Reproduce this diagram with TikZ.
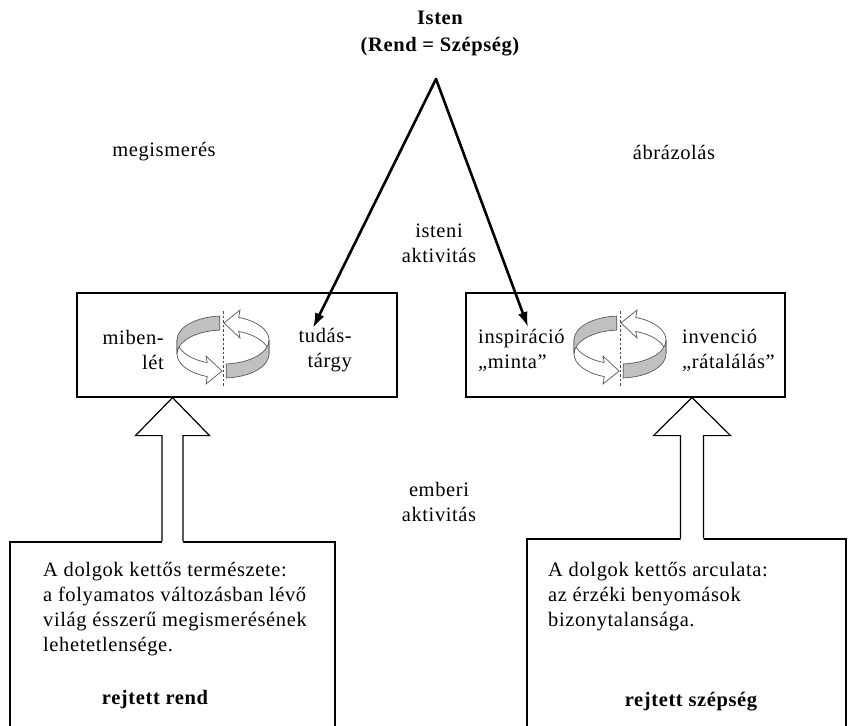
\documentclass[tikz,border=0pt]{standalone}
\usepackage{fontspec}
\setmainfont{Liberation Serif}[LetterSpace=3]
\usetikzlibrary{arrows.meta,calc}
\definecolor{cycgray}{HTML}{C0C0C0}
\tikzset{
  txt/.style={font=\fontsize{20.5}{25}\selectfont, inner sep=0pt},
  btxt/.style={font=\fontsize{20.5}{27}\selectfont\bfseries, inner sep=0pt},
  boxnode/.style={draw, line width=1.2pt, inner sep=0pt},
  godarrow/.style={line width=2.6pt, line join=round,
    {Latex[length=15pt,width=10pt]}-{Latex[length=15pt,width=10pt]}},
  blockarrow/.style={line width=1.2pt, line join=miter},
  cycline/.style={draw=black!65, line width=0.7pt},
  cycdash/.style={draw=black!70, line width=0.8pt, dash pattern=on 2.5pt off 2pt},
  cyc/.pic={
    \begin{scope}[yscale=-1]
      \foreach \r in {0,180}{
        \begin{scope}[rotate=\r]
          \filldraw[cycline,fill=white]
            ({46*cos(180)},{7+24*sin(180)})
            arc[start angle=180,end angle=250,x radius=46,y radius=24]
            -- (-17,-9) -- (-1,-24) -- (-17,-37)
            -- ({46*cos(250)},{-7+24*sin(250)})
            arc[start angle=250,end angle=180,x radius=46,y radius=24]
            -- cycle;
          \filldraw[cycline,fill=cycgray]
            ({46*cos(94)},{7+24*sin(94)})
            arc[start angle=94,end angle=180,x radius=46,y radius=24]
            -- ({46*cos(180)},{-7+24*sin(180)})
            arc[start angle=180,end angle=94,x radius=46,y radius=24]
            -- cycle;
        \end{scope}
      }
      \draw[cycdash] (0,36) -- (0,-39);
    \end{scope}
  }
}
\begin{document}
\begin{tikzpicture}[x=1pt,y=-1pt]
  \useasboundingbox (0,0) rectangle (848,725);
  \fill[white] (0,0) rectangle (848,725);
  \clip (0,0) rectangle (848,725);

  % top labels
  \node[btxt, align=center] (isten) at (440,33.5) {Isten\\(Rend = Szépség)};
  \node[txt] (megis) at (164,152) {megismerés};
  \node[txt] (abraz) at (674,152) {ábrázolás};
  \node[txt, align=center] (isteni) at (439,243) {isteni\\aktivitás};

  % middle boxes
  \node[boxnode, minimum width=320pt, minimum height=104pt] (box1) at (237,345) {};
  \node[boxnode, minimum width=319pt, minimum height=104pt] (box2) at (625.5,345) {};
  \node[txt, align=right, anchor=east] (mib) at (164,350) {miben-\\lét};
  \node[txt, align=right, anchor=east] (tud) at (352,350) {tudás-\\tárgy};
  \node[txt, align=left, anchor=west] (insp) at (478,350) {inspiráció\\„minta”};
  \node[txt, align=left, anchor=west] (inv) at (682,350) {invenció\\„rátalálás”};
  \pic (cyc1) at (223,347) {cyc};
  \pic (cyc2) at (620,347) {cyc};

  % divine arrows
  \coordinate (apex) at (436,79);
  \coordinate (tip1) at (313,328);
  \coordinate (tip2) at (528,327);
  \draw[godarrow] (tip1) -- (apex) -- (tip2);

  % human activity
  \node[txt, align=center] (emberi) at (439,502) {emberi\\aktivitás};

  % bottom boxes
  \node[boxnode, minimum width=325pt, minimum height=218pt] (bl) at (172.5,651) {};
  \node[boxnode, minimum width=319pt, minimum height=222pt] (br) at (686.5,650) {};
  \node[txt, align=left, anchor=west] (bltext) at (43,609.5)
    {A dolgok kettős természete:\\a folyamatos változásban lévő\\világ ésszerű megismerésének\\lehetetlensége.};
  \node[txt, font=\fontsize{20.5}{25}\selectfont\bfseries] (blbold) at (155,700) {rejtett rend};
  \node[txt, align=left, anchor=west] (brtext) at (548,597)
    {A dolgok kettős arculata:\\az érzéki benyomások\\bizonytalansága.};
  \node[txt, font=\fontsize{20.5}{25}\selectfont\bfseries] (brbold) at (691,702) {rejtett szépség};

  % block arrows
  \fill[white] let \p1=(bl.north), \p2=(box1.south) in
    (\x1-10.5pt,\y1-1.5pt) -- (\x1-10.5pt,\y2-38pt) -- (\x1-37pt,\y2-38pt) -- (\x1,\y2)
    -- (\x1+37pt,\y2-38pt) -- (\x1+10.5pt,\y2-38pt) -- (\x1+10.5pt,\y1-1.5pt) -- cycle;
  \draw[blockarrow] let \p1=(bl.north), \p2=(box1.south) in
    (\x1-10.5pt,\y1) -- (\x1-10.5pt,\y2-38pt) -- (\x1-37pt,\y2-38pt) -- (\x1,\y2)
    -- (\x1+37pt,\y2-38pt) -- (\x1+10.5pt,\y2-38pt) -- (\x1+10.5pt,\y1);
  \fill[white] let \p1=($(br.north)+(5.5,0)$), \p2=(box2.south) in
    (\x1-11.5pt,\y1-1.5pt) -- (\x1-11.5pt,\y2-38pt) -- (\x1-38.5pt,\y2-38pt) -- (\x1,\y2)
    -- (\x1+38.5pt,\y2-38pt) -- (\x1+11.5pt,\y2-38pt) -- (\x1+11.5pt,\y1-1.5pt) -- cycle;
  \draw[blockarrow] let \p1=($(br.north)+(5.5,0)$), \p2=(box2.south) in
    (\x1-11.5pt,\y1) -- (\x1-11.5pt,\y2-38pt) -- (\x1-38.5pt,\y2-38pt) -- (\x1,\y2)
    -- (\x1+38.5pt,\y2-38pt) -- (\x1+11.5pt,\y2-38pt) -- (\x1+11.5pt,\y1);
\end{tikzpicture}
\end{document}
